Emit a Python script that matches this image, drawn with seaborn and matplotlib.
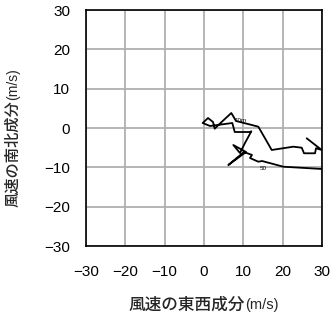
import matplotlib
matplotlib.use("Agg")
import matplotlib.pyplot as plt
import seaborn as sns
import pandas as pd

# hodograph: east-west (u) and north-south (v) wind components, m/s
u = [26.11, 29.93, 28.48, 28.22, 25.43, 24.84, 22.71, 17.21, 15.76, 13.81,
     11.87, 8.14, 6.94, 3.74, 2.72, 2.29, 1.02, -0.33, 1.53, 7.20,
     7.81, 11.62, 12.03, 10.42, 9.15, 7.45, 10.68, 6.18, 10.17, 12.20,
     11.70, 13.81, 14.75, 20.16, 24.41, 29.93]
v = [-2.62, -5.59, -5.16, -6.43, -6.43, -5.01, -4.75, -5.59, -3.05, 0.33,
     0.84, 1.78, 3.81, 0.84, -0.18, 1.53, 2.54, 1.27, 0.51, 1.27,
     -1.02, -1.02, -0.84, -3.81, -6.36, -4.32, -6.10, -9.41, -6.10, -6.86,
     -7.63, -8.57, -8.39, -9.84, -10.09, -10.42]
marker_text = ["10m", "50"]
marker_u = [9.2, 15.0]
marker_v = [1.8, -10.4]
ticks = [-30, -20, -10, 0, 10, 20, 30]
xlabel_main, xlabel_unit = "風速の東西成分", "(m/s)"
ylabel_main, ylabel_unit = "風速の南北成分", "(m/s)"

df = pd.DataFrame({"u": u, "v": v, "order": range(len(u))})

sns.set_style("white")
plt.rcParams["font.family"] = ["Liberation Sans", "Noto Sans CJK JP", "DejaVu Sans"]

W, H = 332, 319
fig = plt.figure(figsize=(W / 100, H / 100), dpi=100)
ax = fig.add_axes([86 / W, 1 - 246 / H, (322 - 86) / W, (246 - 10) / H])

sns.lineplot(data=df, x="u", y="v", sort=False, estimator=None, color="black",
             linewidth=1.3, ax=ax, zorder=3)
for t, x, y in zip(marker_text, marker_u, marker_v):
    ax.text(x, y, t, fontsize=4.5, ha="center", va="center", color="black", zorder=4)

ax.set_xlim(-30, 30)
ax.set_ylim(-30, 30)
ax.set_xticks(ticks)
ax.set_yticks(ticks)
ax.set_xticklabels([str(t) if t >= 0 else "\u2212" + str(-t) for t in ticks])
ax.set_yticklabels([str(t) if t >= 0 else "\u2212" + str(-t) for t in ticks])
ax.grid(True, color="#b0b0b0", linewidth=1.3, zorder=0)
ax.set_axisbelow(True)
for s in ax.spines.values():
    s.set_color("black")
    s.set_linewidth(1.2)
ax.tick_params(direction="out", length=6.5, width=0.8, color="black",
               labelsize=11, labelcolor="black")
ax.tick_params(axis="x", pad=7)
ax.tick_params(axis="y", pad=5)
ax.set_xlabel("")
ax.set_ylabel("")

cjk = ["Noto Sans CJK JP", "DejaVu Sans"]
lat = ["Liberation Sans", "DejaVu Sans"]
# x label
fig.text(245 / W, 1 - 305 / H, xlabel_main, family=cjk, fontsize=12,
         ha="right", va="center", weight="medium")
fig.text(245 / W, 1 - 305 / H, xlabel_unit, family=lat, fontsize=10.5,
         ha="left", va="center")
# y label
fig.text(13 / W, 1 - 100 / H, ylabel_main, family=cjk, fontsize=11,
         rotation=90, ha="center", va="top", weight="medium")
fig.text(13 / W, 1 - 100 / H, ylabel_unit, family=lat, fontsize=10,
         rotation=90, ha="center", va="bottom")

fig.savefig("out.png", dpi=100)
